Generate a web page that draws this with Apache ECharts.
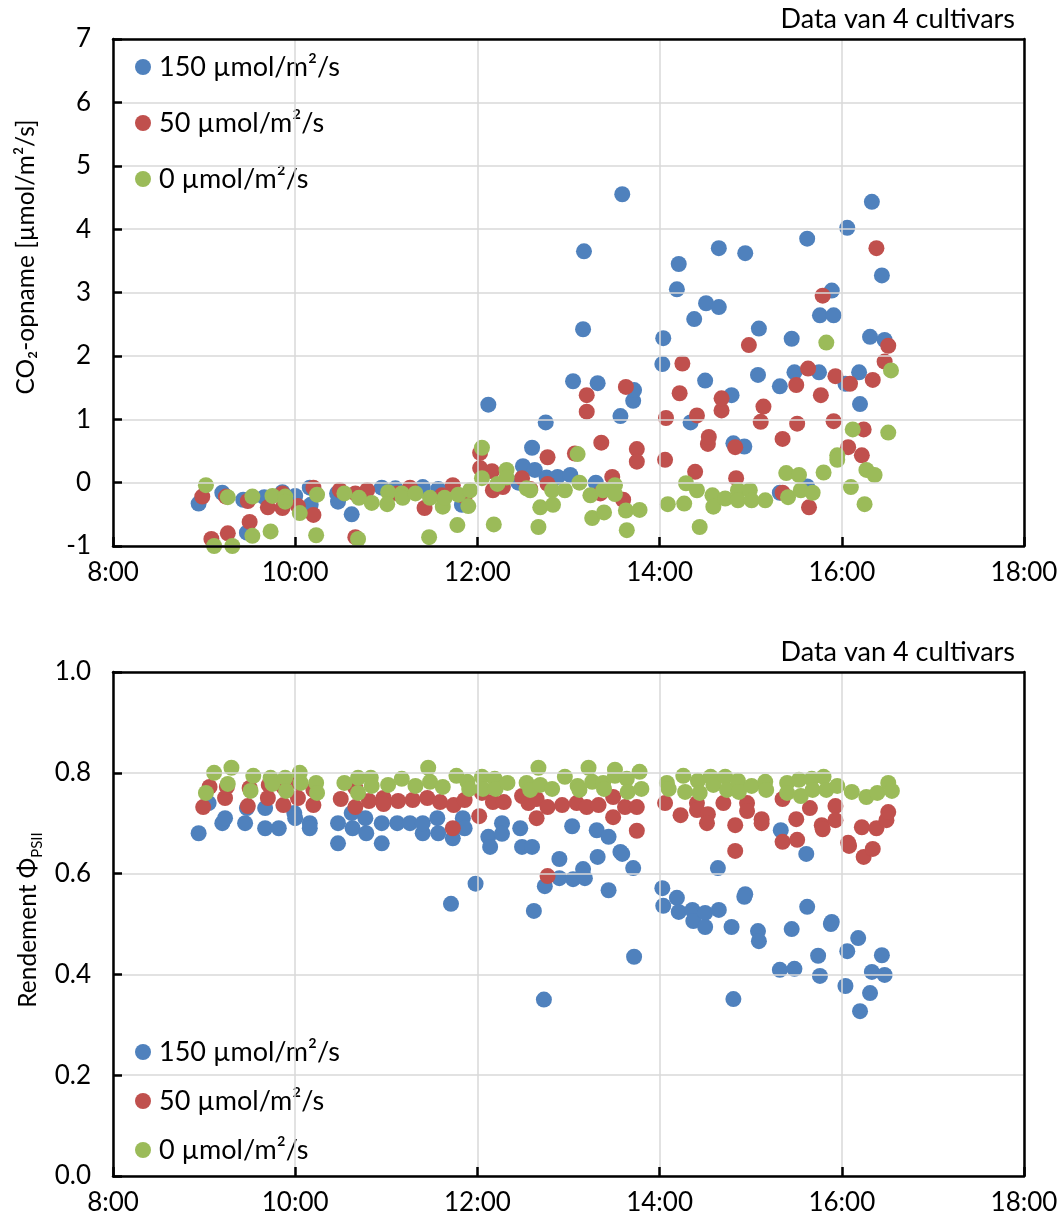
<!DOCTYPE html>
<html><head><meta charset="utf-8">
<script src="https://cdn.jsdelivr.net/npm/echarts@6/dist/echarts.min.js"></script>
<style>html,body{margin:0;padding:0;background:#fff}#c{width:1061px;height:1226px}</style>
</head><body><div id="c"></div>
<script>
// Series names (legend)
const seriesNames = ['150 µmol/m²/s', '50 µmol/m²/s', '0 µmol/m²/s'];
const seriesColors = ['#4F81BD', '#C0504D', '#9BBB59'];
const noteText = 'Data van 4 cultivars';
const timeTicks = ['8:00', '10:00', '12:00', '14:00', '16:00', '18:00'];

// Top panel: CO2 uptake [µmol/m²/s] vs time of day (decimal hours)
const co2_150 = [
[8.94,-0.33],[9.20,-0.16],[9.43,-0.27],[9.47,-0.79],[9.66,-0.23],[9.86,-0.15],[10.0,-0.21],[10.16,-0.08],[10.17,-0.35],
[10.46,-0.17],[10.47,-0.3],[10.62,-0.5],[10.95,-0.08],[11.10,-0.09],[11.26,-0.1],[11.40,-0.07],[11.57,-0.1],[11.83,-0.35],
[12.12,1.23],[12.45,0.0],[12.50,0.26],[12.60,0.55],[12.63,0.2],[12.75,0.95],[12.76,0.08],[12.88,0.09],[13.02,0.12],
[13.05,1.6],[13.16,2.42],[13.17,3.65],[13.30,0.0],[13.32,1.57],[13.57,1.05],[13.59,4.55],[13.71,1.29],[13.72,1.46],
[14.03,1.87],[14.04,2.28],[14.19,3.05],[14.21,3.45],[14.34,0.95],[14.38,2.58],[14.50,1.61],[14.51,2.83],[14.65,2.77],
[14.65,3.70],[14.79,1.38],[14.81,0.62],[14.93,0.57],[14.94,3.62],[15.08,1.70],[15.09,2.43],[15.32,1.52],[15.32,-0.16],
[15.45,2.27],[15.48,1.74],[15.62,3.85],[15.62,-0.06],[15.75,1.74],[15.76,2.64],[15.89,3.03],[15.91,2.64],[16.04,1.56],
[16.06,4.02],[16.19,1.74],[16.20,1.24],[16.31,2.30],[16.33,4.43],[16.44,3.27],[16.47,2.25]
];
const co2_50 = [
[8.98,-0.22],[9.08,-0.89],[9.24,-0.22],[9.26,-0.8],[9.48,-0.29],[9.50,-0.62],[9.70,-0.39],[9.86,-0.17],[9.86,-0.4],
[10.03,-0.37],[10.20,-0.08],[10.20,-0.51],[10.49,-0.12],[10.66,-0.86],[10.66,-0.17],[10.79,-0.12],[11.12,-0.17],[11.26,-0.08],
[11.42,-0.4],[11.61,-0.2],[11.73,-0.04],[11.86,-0.22],[12.03,0.47],[12.03,0.23],[12.16,0.18],[12.17,-0.12],[12.28,-0.07],
[12.49,0.07],[12.58,-0.1],[12.77,0.4],[12.77,-0.02],[13.07,0.46],[13.20,1.38],[13.20,1.12],[13.36,0.63],[13.35,-0.17],
[13.48,0.09],[13.60,-0.27],[13.63,1.51],[13.75,0.53],[13.75,0.33],[14.06,0.36],[14.07,1.02],[14.22,1.41],[14.25,1.88],
[14.39,0.17],[14.41,1.06],[14.53,0.61],[14.54,0.72],[14.68,1.14],[14.68,1.33],[14.83,0.56],[14.84,0.07],[14.98,2.17],
[15.11,0.96],[15.14,1.2],[15.35,0.69],[15.35,-0.16],[15.50,1.54],[15.51,0.93],[15.63,1.8],[15.64,-0.39],[15.77,1.38],
[15.79,2.95],[15.91,0.97],[15.93,1.68],[16.07,0.56],[16.09,1.56],[16.22,0.43],[16.24,0.84],[16.34,1.62],[16.38,3.70],
[16.47,1.91],[16.51,2.16]
];
const co2_0 = [
[9.02,-0.04],[9.11,-1.0],[9.26,-0.23],[9.31,-1.0],[9.53,-0.84],[9.53,-0.22],[9.73,-0.77],[9.75,-0.21],[9.89,-0.22],
[9.89,-0.3],[10.05,-0.48],[10.23,-0.83],[10.24,-0.19],[10.54,-0.17],[10.69,-0.89],[10.70,-0.24],[10.84,-0.32],[11.02,-0.15],
[11.01,-0.34],[11.17,-0.17],[11.18,-0.24],[11.32,-0.17],[11.47,-0.86],[11.48,-0.24],[11.62,-0.38],[11.64,-0.24],[11.78,-0.67],
[11.79,-0.19],[11.90,-0.37],[11.92,-0.12],[12.05,0.55],[12.05,0.07],[12.18,-0.66],[12.22,-0.02],[12.32,0.2],[12.32,0.08],
[12.54,-0.09],[12.58,-0.12],[12.67,-0.7],[12.69,-0.39],[12.82,-0.12],[12.83,-0.35],[12.96,-0.12],[13.10,0.45],[13.12,0.0],
[13.24,-0.2],[13.26,-0.56],[13.38,-0.12],[13.39,-0.47],[13.51,-0.04],[13.51,-0.18],[13.64,-0.75],[13.63,-0.44],[13.78,-0.43],
[14.09,-0.34],[14.27,-0.33],[14.29,-0.01],[14.41,-0.12],[14.44,-0.7],[14.58,-0.2],[14.59,-0.38],[14.72,-0.25],[14.86,-0.12],
[14.86,-0.28],[14.99,-0.12],[15.01,-0.28],[15.16,-0.28],[15.39,0.15],[15.41,-0.23],[15.53,0.12],[15.55,-0.12],[15.68,-0.16],
[15.80,0.16],[15.83,2.21],[15.95,0.43],[15.95,0.36],[16.10,-0.07],[16.12,0.84],[16.25,-0.34],[16.27,0.2],[16.36,0.12],
[16.51,0.79],[16.54,1.77]
];

// Bottom panel: PSII efficiency vs time of day (decimal hours)
const phi_150 = [
[8.94,0.68],[9.05,0.74],[9.20,0.70],[9.23,0.71],[9.45,0.70],[9.47,0.73],[9.67,0.69],[9.67,0.73],[9.82,0.69],[9.99,0.72],
[10.0,0.71],[10.16,0.70],[10.16,0.69],[10.47,0.70],[10.47,0.66],[10.62,0.72],[10.63,0.69],[10.77,0.71],[10.78,0.68],
[10.95,0.70],[10.95,0.66],[11.12,0.70],[11.26,0.70],[11.40,0.68],[11.40,0.70],[11.56,0.71],[11.57,0.68],[11.71,0.54],
[11.73,0.67],[11.84,0.71],[11.86,0.69],[11.98,0.58],[12.12,0.673],[12.14,0.653],[12.27,0.70],[12.27,0.679],[12.47,0.69],
[12.49,0.653],[12.60,0.653],[12.62,0.526],[12.73,0.35],[12.74,0.575],[12.90,0.629],[12.90,0.591],[13.04,0.694],[13.05,0.589],
[13.16,0.609],[13.18,0.591],[13.31,0.686],[13.32,0.633],[13.44,0.673],[13.44,0.567],[13.57,0.643],[13.59,0.639],[13.71,0.611],
[13.72,0.435],[14.03,0.571],[14.04,0.536],[14.19,0.552],[14.21,0.524],[14.36,0.528],[14.37,0.506],[14.50,0.522],[14.50,0.494],
[14.64,0.611],[14.65,0.528],[14.79,0.494],[14.81,0.351],[14.93,0.554],[14.94,0.559],[15.08,0.486],[15.09,0.466],[15.32,0.409],
[15.33,0.686],[15.45,0.49],[15.48,0.411],[15.61,0.639],[15.62,0.534],[15.74,0.437],[15.76,0.397],[15.88,0.50],[15.89,0.504],
[16.04,0.377],[16.06,0.446],[16.18,0.472],[16.20,0.327],[16.31,0.363],[16.33,0.405],[16.44,0.438],[16.47,0.399]
];
const phi_50 = [
[8.99,0.732],[9.06,0.772],[9.23,0.75],[9.25,0.772],[9.48,0.734],[9.50,0.77],[9.70,0.75],[9.71,0.776],[9.87,0.736],
[9.87,0.772],[10.03,0.75],[10.04,0.78],[10.20,0.736],[10.20,0.766],[10.50,0.748],[10.66,0.732],[10.66,0.77],[10.81,0.744],
[10.97,0.75],[10.97,0.738],[11.13,0.744],[11.29,0.746],[11.45,0.75],[11.59,0.742],[11.74,0.736],[11.73,0.69],[11.86,0.746],
[12.02,0.714],[12.05,0.76],[12.17,0.742],[12.29,0.742],[12.49,0.754],[12.56,0.74],[12.65,0.748],[12.65,0.71],[12.77,0.595],
[12.77,0.732],[12.93,0.736],[13.09,0.74],[13.20,0.732],[13.33,0.736],[13.49,0.752],[13.49,0.712],[13.62,0.732],[13.75,0.732],
[13.75,0.685],[14.06,0.74],[14.23,0.716],[14.41,0.74],[14.41,0.726],[14.53,0.718],[14.52,0.70],[14.70,0.74],[14.83,0.696],
[14.83,0.645],[14.96,0.74],[14.96,0.724],[15.12,0.708],[15.12,0.70],[15.35,0.748],[15.35,0.663],[15.50,0.708],[15.51,0.667],
[15.65,0.73],[15.78,0.696],[15.79,0.688],[15.93,0.734],[15.93,0.706],[16.07,0.661],[16.08,0.655],[16.22,0.692],[16.24,0.633],
[16.34,0.649],[16.38,0.69],[16.49,0.706],[16.51,0.722]
];
const phi_0 = [
[9.02,0.76],[9.11,0.80],[9.26,0.778],[9.30,0.81],[9.51,0.764],[9.54,0.794],[9.73,0.79],[9.75,0.778],[9.89,0.79],[9.90,0.764],
[10.05,0.80],[10.06,0.78],[10.23,0.78],[10.24,0.76],[10.54,0.78],[10.69,0.79],[10.69,0.76],[10.83,0.79],[10.84,0.774],
[11.02,0.776],[11.17,0.788],[11.32,0.774],[11.46,0.81],[11.48,0.782],[11.62,0.772],[11.77,0.794],[11.89,0.782],[11.91,0.768],
[12.05,0.792],[12.06,0.768],[12.19,0.788],[12.20,0.768],[12.33,0.78],[12.54,0.78],[12.58,0.766],[12.67,0.81],[12.69,0.776],
[12.82,0.768],[12.96,0.792],[13.10,0.774],[13.12,0.766],[13.22,0.81],[13.26,0.782],[13.38,0.78],[13.39,0.768],[13.51,0.806],
[13.51,0.794],[13.64,0.788],[13.65,0.762],[13.78,0.802],[13.80,0.768],[14.08,0.78],[14.10,0.768],[14.26,0.794],[14.28,0.762],
[14.42,0.784],[14.44,0.76],[14.56,0.792],[14.59,0.776],[14.72,0.792],[14.74,0.766],[14.86,0.784],[14.87,0.762],[15.01,0.774],
[15.16,0.782],[15.17,0.766],[15.40,0.78],[15.40,0.76],[15.53,0.786],[15.55,0.754],[15.67,0.788],[15.68,0.766],[15.80,0.792],
[15.83,0.766],[15.95,0.774],[16.11,0.762],[16.27,0.752],[16.39,0.76],[16.51,0.78],[16.55,0.764]
];

const FONT = 'Lato, "Open Sans", sans-serif';
const chart = echarts.init(document.getElementById('c'), null, {renderer: 'canvas'});

function xAx(gi) {
  return {
    gridIndex: gi, type: 'value', min: 8, max: 18, interval: 2, z: 5,
    axisLine: {onZero: false, lineStyle: {color: '#000', width: 2.5}},
    axisTick: {inside: true, length: 9, lineStyle: {color: '#000', width: 2.5}},
    axisLabel: {color: '#000', fontSize: 26, fontFamily: FONT, margin: 14,
      formatter: v => timeTicks[Math.round((v - 8) / 2)]},
    splitLine: {show: true, lineStyle: {color: '#d9d9d9', width: 1.5}}
  };
}
function frameX(gi) {
  return {gridIndex: gi, type: 'value', position: 'top', min: 8, max: 18, z: 5,
    axisLine: {show: true, onZero: false, lineStyle: {color: '#000', width: 2.5}},
    axisTick: {show: false}, axisLabel: {show: false}, splitLine: {show: false}};
}
function yAx(gi, min, max, interval, dec) {
  return {
    gridIndex: gi, type: 'value', min: min, max: max, interval: interval, z: 5,
    axisLine: {show: true, onZero: false, lineStyle: {color: '#000', width: 2.5}},
    axisTick: {show: true, inside: true, length: 9, lineStyle: {color: '#000', width: 2.5}},
    axisLabel: {color: '#000', fontSize: 26, fontFamily: FONT, margin: 22,
      formatter: v => v.toFixed(dec)},
    splitLine: {show: true, lineStyle: {color: '#d9d9d9', width: 1.5}}
  };
}
function frameY(gi, min, max) {
  return {gridIndex: gi, type: 'value', position: 'right', min: min, max: max, z: 5,
    axisLine: {show: true, onZero: false, lineStyle: {color: '#000', width: 2.5}},
    axisTick: {show: false}, axisLabel: {show: false}, splitLine: {show: false}};
}
const dataSets = [[co2_150, co2_50, co2_0], [phi_150, phi_50, phi_0]];
const series = [];
dataSets.forEach((set, gi) => {
  set.forEach((d, si) => {
    series.push({
      type: 'scatter', name: seriesNames[si], xAxisIndex: gi, yAxisIndex: gi,
      data: d, symbol: 'circle', symbolSize: 16,
      itemStyle: {color: seriesColors[si], opacity: 1},
      emphasis: {disabled: true}, z: 2 + si
    });
  });
});
function legend(top, gap) {
  return {
    data: seriesNames, orient: 'vertical', left: 135, top: top, icon: 'circle', padding: 0,
    itemWidth: 16, itemHeight: 16, itemGap: gap, selectedMode: false,
    textStyle: {color: '#000', fontSize: 27, fontFamily: FONT, lineHeight: 30, padding: [0, 0, 0, 3]}
  };
}
chart.setOption({
  animation: false,
  backgroundColor: '#fff',
  grid: [
    {left: 113, top: 39, width: 911, height: 507, show: false, containLabel: false},
    {left: 113, top: 672, width: 911, height: 504, show: false, containLabel: false}
  ],
  xAxis: [xAx(0), xAx(1), frameX(0), frameX(1)],
  yAxis: [yAx(0, -1, 7, 1, 0), yAx(1, 0, 1, 0.2, 1), frameY(0, -1, 7), frameY(1, 0, 1)],
  legend: [legend(52, 26), legend(1037, 19)],
  series: series,
  graphic: [
    {type: 'text', right: 46, top: 6, style: {text: noteText, font: '27px ' + FONT, fill: '#000'}},
    {type: 'text', right: 46, top: 639, style: {text: noteText, font: '27px ' + FONT, fill: '#000'}},
    {type: 'text', x: 26, y: 257, rotation: Math.PI / 2,
     style: {text: 'CO₂-opname [µmol/m²/s]', font: '24.5px ' + FONT, fill: '#000', align: 'center', verticalAlign: 'middle'}},
    {type: 'text', x: 26, y: 920, rotation: Math.PI / 2,
     style: {text: '{a|Rendement Φ}{b|PSII}', fill: '#000', align: 'center', verticalAlign: 'middle',
       rich: {a: {fontSize: 24.5, fontFamily: FONT, lineHeight: 30, verticalAlign: 'bottom'},
              b: {fontSize: 15, fontFamily: FONT, lineHeight: 30, verticalAlign: 'bottom', padding: [0, 0, -4, 0]}}}}
  ]
});
</script>
</body></html>
